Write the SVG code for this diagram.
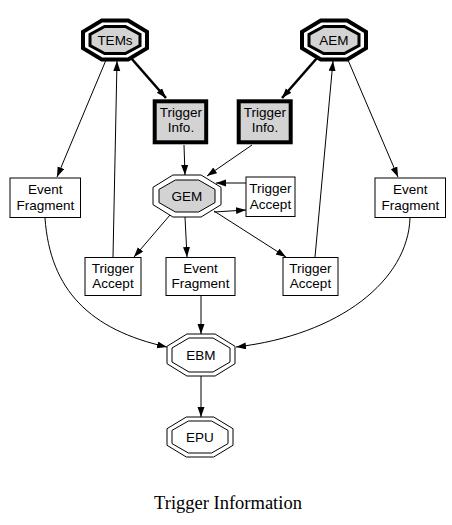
<svg xmlns="http://www.w3.org/2000/svg" width="452" height="525" viewBox="0 0 452 525">
<style>
.bg{fill:#fff}
.box{fill:#fff;stroke:#000;stroke-width:1}
.tbox{fill:#d3d3d3;stroke:#000;stroke-width:4}
.oct{fill:none;stroke:#000;stroke-width:1}
.octf{fill:#d3d3d3;stroke:#000;stroke-width:1}
.octT{fill:none;stroke:#000;stroke-width:4}
.octTf{fill:#d3d3d3;stroke:#000;stroke-width:3}
.lbl{font-family:"Liberation Sans",Arial,sans-serif;font-size:13.5px;text-anchor:middle;fill:#000}
.cap{font-family:"Liberation Serif","Times New Roman",serif;font-size:18.5px;text-anchor:middle;fill:#000}
.e{fill:none;stroke:#000;stroke-width:1}
.et{fill:none;stroke:#000;stroke-width:2.5}
</style>
<defs>
<marker id="ah" markerUnits="userSpaceOnUse" markerWidth="11" markerHeight="8" refX="10" refY="3.5" orient="auto">
<path d="M0,0 L10,3.5 L0,7 z" fill="#000"/>
</marker>
</defs>
<rect class="bg" x="0" y="0" width="452" height="525"/>
<g id="connectors">
<line class="et" x1="131" y1="58" x2="166" y2="98" marker-end="url(#ah)"/>
<line class="et" x1="317" y1="58" x2="282" y2="98" marker-end="url(#ah)"/>
<line class="e" x1="106" y1="60" x2="57" y2="177" marker-end="url(#ah)"/>
<line class="e" x1="113" y1="257" x2="117" y2="61" marker-end="url(#ah)"/>
<line class="e" x1="348" y1="60" x2="398" y2="177" marker-end="url(#ah)"/>
<line class="e" x1="315" y1="257" x2="333" y2="61" marker-end="url(#ah)"/>
<line class="e" x1="184" y1="145" x2="185" y2="175" marker-end="url(#ah)"/>
<line class="e" x1="252" y1="145" x2="207" y2="176" marker-end="url(#ah)"/>
<line class="e" x1="246" y1="183" x2="216" y2="183" marker-end="url(#ah)"/>
<line class="e" x1="214" y1="212" x2="246" y2="210" marker-end="url(#ah)"/>
<line class="e" x1="170" y1="215" x2="134" y2="257" marker-end="url(#ah)"/>
<line class="e" x1="185" y1="217" x2="187" y2="257" marker-end="url(#ah)"/>
<line class="e" x1="214" y1="211" x2="286" y2="257" marker-end="url(#ah)"/>
<path class="e" d="M45,218 C50,290 90,330 167,347" marker-end="url(#ah)"/>
<path class="e" d="M410,218 C408,280 340,335 236,347" marker-end="url(#ah)"/>
<line class="e" x1="201" y1="296" x2="201" y2="334" marker-end="url(#ah)"/>
<line class="e" x1="201" y1="376" x2="201" y2="417" marker-end="url(#ah)"/>
</g>
<g id="TEMs">
<polygon class="octT" points="101.8,20.5 128.2,20.5 147,31.9 147,48.1 128.2,59.5 101.8,59.5 83,48.1 83,31.9"/>
<polygon class="octTf" points="104.65,26.5 125.35,26.5 140,34.4 140,45.6 125.35,53.5 104.65,53.5 90,45.6 90,34.4"/>
<text class="lbl" x="115" y="45">TEMs</text>
</g>
<g id="AEM">
<polygon class="octT" points="320.8,20.5 347.2,20.5 366,31.9 366,48.1 347.2,59.5 320.8,59.5 302,48.1 302,31.9"/>
<polygon class="octTf" points="323.65,26.5 344.35,26.5 359,34.4 359,45.6 344.35,53.5 323.65,53.5 309,45.6 309,34.4"/>
<text class="lbl" x="334" y="45">AEM</text>
</g>
<g id="TriggerInfoL">
<rect class="tbox" x="154.7" y="101.3" width="51.5" height="41"/>
<text class="lbl" x="181" y="117">Trigger</text>
<text class="lbl" x="181" y="132">Info.</text>
</g>
<g id="TriggerInfoR">
<rect class="tbox" x="238.7" y="101.3" width="52" height="41"/>
<text class="lbl" x="265" y="117">Trigger</text>
<text class="lbl" x="265" y="132">Info.</text>
</g>
<g id="GEM">
<polygon class="oct" points="172.9,175 201.1,175 221,187.3 221,204.7 201.1,217 172.9,217 153,204.7 153,187.3"/>
<polygon class="octf" points="175.4,180 198.6,180 215,189.4 215,202.6 198.6,212 175.4,212 159,202.6 159,189.4"/>
<text class="lbl" x="187" y="201">GEM</text>
</g>
<g id="TriggerAcceptGEM">
<rect class="box" x="246" y="177" width="49" height="39.5"/>
<text class="lbl" x="270.5" y="193">Trigger</text>
<text class="lbl" x="270.5" y="209">Accept</text>
</g>
<g id="EventFragmentL">
<rect class="box" x="10" y="178" width="70.5" height="39.5"/>
<text class="lbl" x="45.3" y="194">Event</text>
<text class="lbl" x="45.3" y="210">Fragment</text>
</g>
<g id="EventFragmentR">
<rect class="box" x="375" y="178" width="70.5" height="39.5"/>
<text class="lbl" x="410.3" y="194">Event</text>
<text class="lbl" x="410.3" y="210">Fragment</text>
</g>
<g id="TriggerAcceptL">
<rect class="box" x="85" y="257.5" width="56" height="38"/>
<text class="lbl" x="113" y="273">Trigger</text>
<text class="lbl" x="113" y="288">Accept</text>
</g>
<g id="EventFragmentM">
<rect class="box" x="166" y="257.5" width="69" height="38"/>
<text class="lbl" x="200.5" y="273">Event</text>
<text class="lbl" x="200.5" y="288">Fragment</text>
</g>
<g id="TriggerAcceptR">
<rect class="box" x="283" y="257.5" width="55" height="38"/>
<text class="lbl" x="310.5" y="273">Trigger</text>
<text class="lbl" x="310.5" y="288">Accept</text>
</g>
<g id="EBM">
<polygon class="oct" points="186.9,334 215.1,334 235,346.3 235,363.7 215.1,376 186.9,376 167,363.7 167,346.3"/>
<polygon class="oct" points="189,338 213,338 230,348 230,362 213,372 189,372 172,362 172,348"/>
<text class="lbl" x="201" y="360">EBM</text>
</g>
<g id="EPU">
<polygon class="oct" points="186.3,417 213.7,417 233,428.7 233,445.3 213.7,457 186.3,457 167,445.3 167,428.7"/>
<polygon class="oct" points="188.4,421 211.6,421 228,430.4 228,443.6 211.6,453 188.4,453 172,443.6 172,430.4"/>
<text class="lbl" x="200" y="442">EPU</text>
</g>
<text class="cap" x="228" y="509">Trigger Information</text>
</svg>
